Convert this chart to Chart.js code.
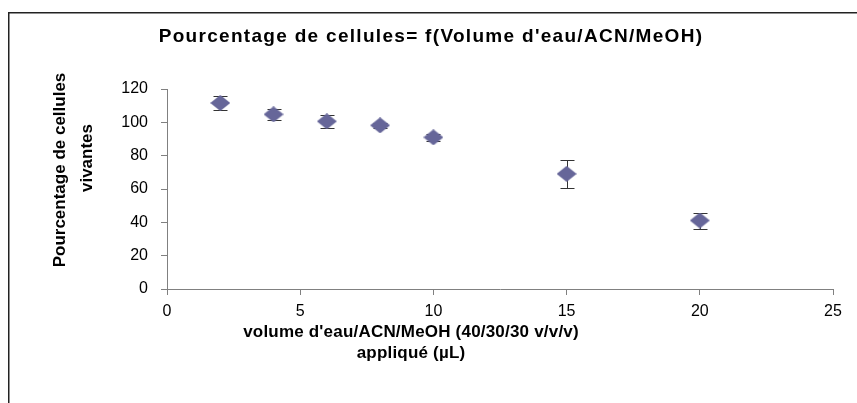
<!DOCTYPE html>
<html>
<head>
<meta charset="utf-8">
<script src="https://cdn.jsdelivr.net/npm/chart.js@4/dist/chart.umd.min.js"></script>
<style>
  body { margin: 0; background: #fff; }
</style>
</head>
<body>
<canvas id="myChart" width="857" height="403"></canvas>
<script>
// data
var volumes = [2, 4, 6, 8, 10, 15, 20];
var viables = [111.6, 104.8, 100.6, 98.2, 91.0, 69.1, 41.1];
var errors = [4.0, 3.5, 3.7, 1.5, 2.0, 8.3, 4.8];
var xTicks = [0, 5, 10, 15, 20, 25];
var yTicks = [0, 20, 40, 60, 80, 100, 120];

var FONT = "'Liberation Sans', Arial, sans-serif";

// wide diamond marker like the excel one
var diamond = document.createElement('canvas');
diamond.width = 20;
diamond.height = 16;
var dctx = diamond.getContext('2d');
dctx.fillStyle = '#666699';
dctx.beginPath();
dctx.moveTo(10, 0);
dctx.lineTo(20, 8);
dctx.lineTo(10, 16);
dctx.lineTo(0, 8);
dctx.closePath();
dctx.fill();

// frame + error bars + titles
var extras = {
    id: 'extras',
    beforeDraw: function(chart){
        var c = chart.ctx;
        c.save();
        c.fillStyle = '#222';
        c.fillRect(8, 12, 1.5, 403 - 12);
        c.fillRect(8, 12, 857 - 8, 1.5);
        c.restore();
    },
    beforeDatasetsDraw: function(chart){
        var c = chart.ctx;
        var xs = chart.scales.x, ys = chart.scales.y;
        c.save();
        c.strokeStyle = '#333';
        c.lineWidth = 1;
        for (var i = 0; i < volumes.length; i++) {
            var px = Math.round(xs.getPixelForValue(volumes[i])) + 0.5;
            var top = Math.round(ys.getPixelForValue(viables[i] + errors[i])) + 0.5;
            var bot = Math.round(ys.getPixelForValue(viables[i] - errors[i])) + 0.5;
            c.beginPath();
            c.moveTo(px, top); c.lineTo(px, bot);
            c.moveTo(px - 7, top); c.lineTo(px + 7, top);
            c.moveTo(px - 7, bot); c.lineTo(px + 7, bot);
            c.stroke();
        }
        c.restore();
    },
    afterDraw: function(chart){
        var c = chart.ctx;
        c.save();
        c.fillStyle = '#000';
        c.textAlign = 'center';
        c.textBaseline = 'middle';

        // main title
        c.font = 'bold 19px ' + FONT;
        c.letterSpacing = '1.3px';
        c.fillText("Pourcentage de cellules= f(Volume d'eau/ACN/MeOH)", 431, 37);

        // x title
        c.font = 'bold 17px ' + FONT;
        c.letterSpacing = '0.2px';
        c.fillText("volume d'eau/ACN/MeOH (40/30/30 v/v/v)", 411, 332);
        c.fillText("appliqué (µL)", 411, 353);

        // y title
        c.letterSpacing = '0px';
        c.translate(60, 170);
        c.rotate(-Math.PI / 2);
        c.fillText("Pourcentage de cellules", 0, 0);
        c.restore();

        c.save();
        c.fillStyle = '#000';
        c.font = 'bold 17px ' + FONT;
        c.textAlign = 'center';
        c.textBaseline = 'middle';
        c.translate(87, 158);
        c.rotate(-Math.PI / 2);
        c.fillText("vivantes", 0, 0);
        c.restore();
    }
};

var ctx = document.getElementById('myChart').getContext('2d');
var myChart = new Chart(ctx, {
    type: 'scatter',
    data: {
        datasets: [
            {
                data: volumes.map(function(v, i){ return {x: v, y: viables[i]}; }),
                pointStyle: diamond,
                pointRadius: 10,
                pointHoverRadius: 10
            }
        ]
    },
    options: {
        responsive: false,
        animation: false,
        layout: {
            padding: { left: 0, right: 24, top: 89, bottom: 0 }
        },
        plugins: {
            legend: { display: false },
            tooltip: { enabled: false },
            title: { display: false }
        },
        scales: {
            x: {
                type: 'linear',
                min: 0,
                max: 25,
                afterBuildTicks: function(s){ s.ticks = xTicks.map(function(v){ return {value: v}; }); },
                afterFit: function(s){ s.height = 114; },
                border: { color: '#808080', width: 1 },
                grid: { drawOnChartArea: false, drawTicks: true, tickLength: 6, color: '#808080' },
                ticks: { color: '#000', padding: 7, font: { family: FONT, size: 16 } }
            },
            y: {
                type: 'linear',
                min: 0,
                max: 120,
                afterBuildTicks: function(s){ s.ticks = yTicks.map(function(v){ return {value: v}; }); },
                afterFit: function(s){ s.width = 167; },
                border: { color: '#808080', width: 1 },
                grid: { drawOnChartArea: false, drawTicks: true, tickLength: 6, color: '#808080' },
                ticks: { color: '#000', padding: 13, font: { family: FONT, size: 16 } }
            }
        }
    },
    plugins: [extras]
});
</script>
</body>
</html>
